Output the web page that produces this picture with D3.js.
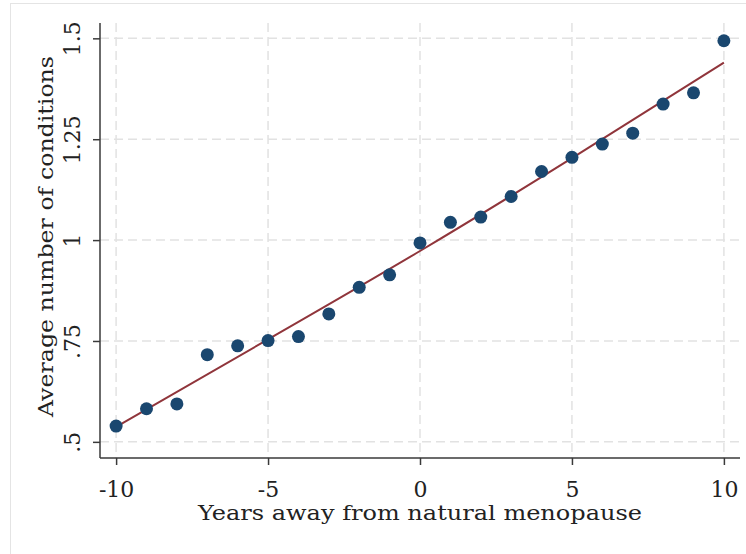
<!DOCTYPE html>
<html>
<head>
<meta charset="utf-8">
<script src="https://cdn.jsdelivr.net/npm/d3@7"></script>
<style>
  body { margin: 0; background: #fff; }
  svg text { font-family: "DejaVu Serif", "Liberation Serif", serif; fill: #222; }
</style>
</head>
<body>
<div id="chart-area"></div>
<script>
// data
var years = [-10, -9, -8, -7, -6, -5, -4, -3, -2, -1, 0, 1, 2, 3, 4, 5, 6, 7, 8, 9, 10];
var avgConditions = [0.539, 0.582, 0.594, 0.716, 0.738, 0.751, 0.761, 0.817, 0.883, 0.914, 0.993,
                     1.044, 1.057, 1.108, 1.170, 1.205, 1.238, 1.265, 1.337, 1.365, 1.494];
// fitted line, read at a few points
var fitYears = [-10, -5, 0, 5, 10];
var fitValues = [0.537, 0.754, 0.973, 1.203, 1.440];

var xTicks = [-10, -5, 0, 5, 10];
var xTickLabels = ["-10", "-5", "0", "5", "10"];
var yTicks = [0.5, 0.75, 1, 1.25, 1.5];
var yTickLabels = [".5", ".75", "1", "1.25", "1.5"];

var margin = {top: 23, right: 6, bottom: 96, left: 100},
    width = 746 - margin.left - margin.right,
    height = 554 - margin.top - margin.bottom;

var root = d3.select("#chart-area")
  .append("svg")
    .attr("width", 746)
    .attr("height", 554);

// light outer frame of the graph region
root.append("rect")
    .attr("x", 10.5)
    .attr("y", 3.5)
    .attr("width", 800)
    .attr("height", 600)
    .style("fill", "none")
    .style("stroke", "#e4e4e4");

var svg = root.append("g")
    .attr("transform", "translate(" + margin.left + "," + margin.top + ")");

var x = d3.scaleLinear()
    .domain([-10.53, 10.53])
    .range([0, width]);

var y = d3.scaleLinear()
    .domain([0.46, 1.538])
    .range([height, 0]);

// dashed grid
svg.append("g")
    .selectAll("line")
    .data(xTicks)
    .enter()
    .append("line")
      .attr("x1", function(d) { return x(d); })
      .attr("x2", function(d) { return x(d); })
      .attr("y1", 0)
      .attr("y2", height)
      .style("stroke", "#e2e2e2")
      .style("stroke-width", 1.5)
      .style("stroke-dasharray", "9,5");

svg.append("g")
    .selectAll("line")
    .data(yTicks)
    .enter()
    .append("line")
      .attr("x1", 0)
      .attr("x2", width)
      .attr("y1", function(d) { return y(d); })
      .attr("y2", function(d) { return y(d); })
      .style("stroke", "#e2e2e2")
      .style("stroke-width", 1.5)
      .style("stroke-dasharray", "9,5");

// x axis
var xAxis = svg.append("g")
    .attr("transform", "translate(0," + height + ")")
    .call(d3.axisBottom(x)
      .tickValues(xTicks)
      .tickSize(7)
      .tickSizeOuter(0)
      .tickFormat(function(d, i) { return xTickLabels[i]; }));

xAxis.selectAll("text")
    .style("font-size", "22px")
    .attr("dy", null)
    .attr("y", 39);

// y axis, labels turned vertical
var yAxis = svg.append("g")
    .call(d3.axisLeft(y)
      .tickValues(yTicks)
      .tickSize(7)
      .tickSizeOuter(0)
      .tickFormat(function(d, i) { return yTickLabels[i]; }));

yAxis.selectAll("text")
    .style("font-size", "22px")
    .attr("x", null)
    .attr("dy", null)
    .attr("text-anchor", "middle")
    .attr("transform", "translate(-20,0) rotate(-90)");

[xAxis, yAxis].forEach(function(a) {
  a.select(".domain").style("stroke", "#3a3a3a").style("stroke-width", 1.5);
  a.selectAll(".tick line").style("stroke", "#3a3a3a").style("stroke-width", 1.5);
  a.selectAll("text").style("fill", "#222").style("font-family", "DejaVu Serif, serif");
});

// extend x axis line to the right edge
xAxis.select(".domain").attr("d", "M0,0H" + width);
yAxis.select(".domain").attr("d", "M0,0V" + height);

// axis titles (stretched a bit, the original face is wider)
svg.append("text")
    .attr("x", width / 2)
    .attr("y", height + 62)
    .attr("text-anchor", "middle")
    .attr("textLength", 444)
    .attr("lengthAdjust", "spacingAndGlyphs")
    .style("font-size", "20px")
    .text("Years away from natural menopause");

svg.append("text")
    .attr("transform", "rotate(-90)")
    .attr("x", -(height / 2) + 4)
    .attr("y", -47)
    .attr("text-anchor", "middle")
    .attr("textLength", 361)
    .attr("lengthAdjust", "spacingAndGlyphs")
    .style("font-size", "20px")
    .text("Average number of conditions");

// fitted line
var fitLine = d3.line()
    .x(function(d, i) { return x(fitYears[i]); })
    .y(function(d) { return y(d); })
    .curve(d3.curveNatural);

svg.append("path")
    .datum(fitValues)
    .attr("d", fitLine)
    .style("fill", "none")
    .style("stroke", "#90353b")
    .style("stroke-width", 2);

// dots
svg.append("g")
    .selectAll("circle")
    .data(avgConditions)
    .enter()
    .append("circle")
      .attr("cx", function(d, i) { return x(years[i]); })
      .attr("cy", function(d) { return y(d); })
      .attr("r", 6.5)
      .style("fill", "#1a476f");
</script>
</body>
</html>
